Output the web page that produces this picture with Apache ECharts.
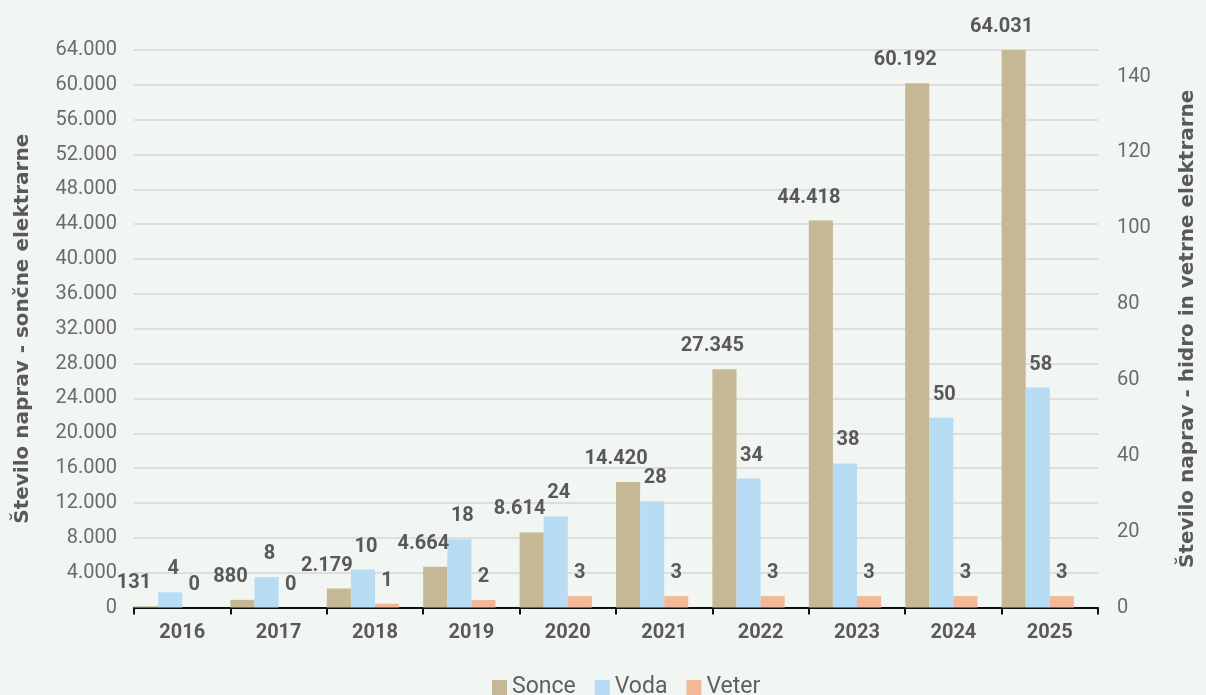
<!DOCTYPE html>
<html>
<head>
<meta charset="utf-8">
<script src="https://cdn.jsdelivr.net/npm/echarts@6/dist/echarts.min.js"></script>
<style>
html,body{margin:0;padding:0;background:#f2f6f3;}
#chart{width:1206px;height:695px;}
</style>
</head>
<body>
<div id="chart"></div>
<script>
const years = ['2016','2017','2018','2019','2020','2021','2022','2023','2024','2025'];
const sonce = [131, 880, 2179, 4664, 8614, 14420, 27345, 44418, 60192, 64031];
const voda = [4, 8, 10, 18, 24, 28, 34, 38, 50, 58];
const veter = [0, 0, 1, 2, 3, 3, 3, 3, 3, 3];
const leftTicksMax = 64000;
const rightTicksMax = 147;

function fmtThousands(v) {
  return String(Math.round(v)).replace(/\B(?=(\d{3})+(?!\d))/g, '.');
}

const FONT = 'Roboto';
const NAMEFONT = 'DejaVu Sans';
const labelStyle = {
  show: true, position: 'top', distance: 13,
  fontFamily: FONT, fontWeight: 'bold', fontSize: 20, color: '#595959'
};

const chart = echarts.init(document.getElementById('chart'), null, {renderer: 'canvas'});
chart.setOption({
  backgroundColor: '#f2f6f3',
  animation: false,
  grid: {left: 134, right: 103, top: 50, bottom: 87.5, containLabel: false},
  legend: {
    data: ['Sonce', 'Voda', 'Veter'],
    left: 487, top: 671,
    itemWidth: 15, itemHeight: 15, itemGap: 19,
    icon: 'rect',
    textStyle: {fontFamily: FONT, fontSize: 23, color: '#5f5f5f'}
  },
  xAxis: {
    type: 'category', data: years,
    axisLine: {lineStyle: {color: '#111', width: 2}},
    axisTick: {show: true, length: 7, lineStyle: {color: '#111', width: 2}},
    axisLabel: {margin: 15, fontFamily: FONT, fontWeight: 'bold', fontSize: 20, color: '#595959'}
  },
  yAxis: [{
    type: 'value', min: 0, max: leftTicksMax, interval: 4000,
    name: 'Število naprav - sončne elektrarne', nameLocation: 'middle', nameRotate: 90, nameGap: 101,
    nameTextStyle: {fontFamily: NAMEFONT, fontWeight: 'bold', fontSize: 20, color: '#595959'},
    axisLine: {show: false}, axisTick: {show: false},
    axisLabel: {margin: 17, fontFamily: FONT, fontSize: 20, color: '#6b6b6b', formatter: fmtThousands},
    splitLine: {lineStyle: {color: '#dedede', width: 2}}
  }, {
    type: 'value', min: 0, max: rightTicksMax, interval: 20,
    name: 'Število naprav - hidro in vetrne elektrarne', nameLocation: 'middle', nameRotate: 90, nameGap: 80,
    nameTextStyle: {fontFamily: NAMEFONT, fontWeight: 'bold', fontSize: 20, color: '#595959'},
    axisLine: {show: false}, axisTick: {show: false},
    axisLabel: {margin: 19, fontFamily: FONT, fontSize: 20, color: '#6b6b6b',
      formatter: v => (Math.abs(v % 20) < 1e-6 ? String(v) : '')},
    splitLine: {show: false}
  }],
  series: [{
    name: 'Sonce', type: 'bar', yAxisIndex: 0, data: sonce,
    barGap: '0%', barCategoryGap: '0%',
    itemStyle: {color: '#c5b894'},
    label: Object.assign({}, labelStyle, {offset: [-12, 0], formatter: p => fmtThousands(p.value)})
  }, {
    name: 'Voda', type: 'bar', yAxisIndex: 1, data: voda,
    itemStyle: {color: '#b7dcf3'},
    label: Object.assign({}, labelStyle, {offset: [3, 0]})
  }, {
    name: 'Veter', type: 'bar', yAxisIndex: 1, data: veter,
    itemStyle: {color: '#f3b899'},
    label: Object.assign({}, labelStyle)
  }, {
    name: 'spacer', type: 'bar', yAxisIndex: 1, data: []
  }]
});
</script>
</body>
</html>
